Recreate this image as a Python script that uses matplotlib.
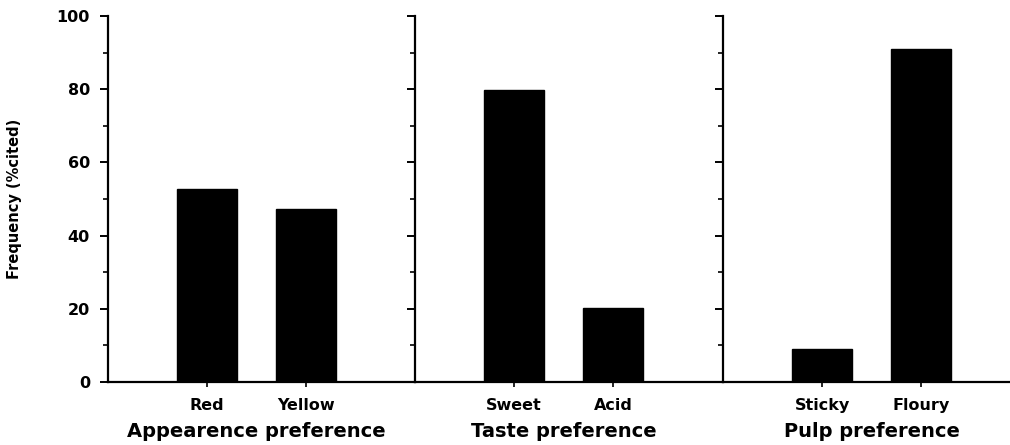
import matplotlib
matplotlib.use("Agg")
import matplotlib.pyplot as plt
import matplotlib.transforms as mtransforms

plt.rcParams['font.family'] = ['DejaVu Sans']
plt.rcParams['font.weight'] = 'bold'

groups = ['Appearence preference', 'Taste preference', 'Pulp preference']
categories = [['Red', 'Yellow'], ['Sweet', 'Acid'], ['Sticky', 'Floury']]
values = [[52.8, 47.3], [79.8, 20.2], [9.1, 90.9]]
y_ticks = [0, 20, 40, 60, 80, 100]
y_minor = [10, 30, 50, 70, 90]
y_label = 'Frequency (%cited)'

W, H = 1010, 445
fig = plt.figure(figsize=(W / 100, H / 100), dpi=100)

bottom_px, top_px = 382, 16
spines_px = [108, 415, 723]
unit_px = 99  # distance between category positions

for i, (grp, cats, vals) in enumerate(zip(groups, categories, values)):
    left = spines_px[i]
    right = spines_px[i + 1] if i + 1 < len(spines_px) else W
    ax = fig.add_axes([left / W, 1 - bottom_px / H, (right - left) / W,
                       (bottom_px - top_px) / H])
    pos = list(range(1, len(cats) + 1))
    ax.bar(pos, vals, width=0.61, color='black', edgecolor='black')
    ax.set_xlim(0, (right - left) / unit_px)
    ax.set_ylim(0, 100)
    ax.set_xticks(pos)
    ax.set_xticklabels(cats, fontsize=11.5, fontweight='bold')
    ax.set_yticks(y_ticks)
    ax.set_yticks(y_minor, minor=True)
    if i == 0:
        ax.set_yticklabels([str(t) for t in y_ticks], fontsize=11.5, fontweight='bold')
        ax.set_ylabel(y_label, fontsize=10.5, fontweight='bold', labelpad=25)
    else:
        ax.set_yticklabels([])
    for s in ['top', 'right']:
        ax.spines[s].set_visible(False)
    for s in ['left', 'bottom']:
        ax.spines[s].set_linewidth(1.6)
    ax.tick_params(axis='y', which='major', length=6, width=1.4, pad=7)
    ax.tick_params(axis='y', which='minor', length=3.5, width=1.2)
    ax.tick_params(axis='x', length=3.5, width=1.2, pad=8)
    trans = mtransforms.blended_transform_factory(ax.transData, ax.transAxes)
    ax.text(1.5, -0.136, grp, transform=trans, ha='center', va='center',
            fontsize=14, fontweight='bold')

fig.savefig('out.png', dpi=100)
